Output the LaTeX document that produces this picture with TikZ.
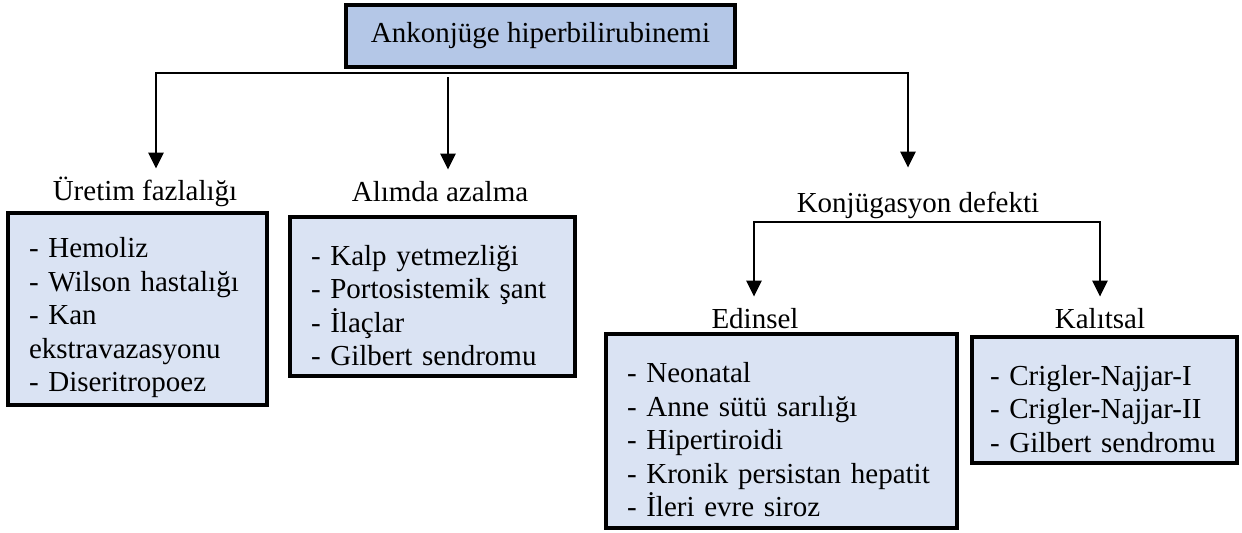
\documentclass[tikz,border=0pt]{standalone}
\usepackage{fontspec}
\setmainfont{Liberation Serif}
\usepackage{tikz}
\usetikzlibrary{arrows.meta, positioning, calc}

\definecolor{headblue}{RGB}{180,199,231}
\definecolor{listblue}{RGB}{218,227,243}

\begin{document}
\begin{tikzpicture}[x=0.5pt, y=-0.5pt,
	font=\fontsize{14.5pt}{16.75pt}\selectfont,
	head/.style={draw, line width=2pt, fill=headblue, minimum width=194.5pt, minimum height=31pt},
	lbl/.style={inner xsep=0pt, inner ysep=3.5pt, text height=12pt, text depth=3pt, anchor=base},
	list/.style={draw, line width=1.8pt, fill=listblue, inner xsep=10.5pt, text height=19pt, align=left},
	arr/.style={line width=1.2pt, -{Triangle[width=7.5pt,length=8pt]}},
	bar/.style={line width=1.2pt, line cap=rect}]
	\useasboundingbox (0,0) rectangle (1242,532);

	\node[head] (root) at (540.5,36) {Ankonjüge hiperbilirubinemi};

	% first level
	\node[lbl] (uretim) at (145,200) {Üretim fazlalığı};
	\node[lbl] (alimda) at (440,201) {Alımda azalma};
	\node[lbl, inner ysep=10pt] (konj) at (918,212) {Konjügasyon defekti};
	\node[list, minimum width=129.5pt, minimum height=96pt, text width=108.5pt] (b1) at (137.5,309)
		{- Hemoliz\\- Wilson hastalığı\\- Kan\\ekstravazasyonu\\- Diseritropoez};
	\node[list, minimum width=142.5pt, minimum height=79.5pt, text width=121.5pt] (b2) at (432.5,296.5)
		{- Kalp yetmezliği\\- Portosistemik şant\\- İlaçlar\\- Gilbert sendromu};

	% second level
	\node[lbl] (edinsel) at (755,328) {Edinsel};
	\node[lbl] (kalitsal) at (1100,328) {Kalıtsal};
	\node[list, minimum width=175.5pt, minimum height=97pt, text width=154.5pt] (b3) at (781.5,431)
		{- Neonatal\\- Anne sütü sarılığı\\- Hipertiroidi\\- Kronik persistan hepatit\\- İleri evre siroz};
	\node[list, inner xsep=9pt, minimum width=132.5pt, minimum height=63pt, text width=114.5pt] (b4) at (1104.5,400)
		{- Crigler-Najjar-I\\- Crigler-Najjar-II\\- Gilbert sendromu};

	\coordinate (hl) at (156,73);
	\coordinate (hm) at (448,77);
	\coordinate (hr) at (908,73);
	\coordinate (kl) at (754,222);
	\coordinate (kr) at (1100,222);

	\draw[bar] (hl) -- (hr);
	\draw[bar] (kl) -- (kr);
	\foreach \from/\to in {hl/uretim,hm/alimda,hr/konj,kl/edinsel,kr/kalitsal}
		\draw[arr] (\from) -- (\from |- \to.north);
\end{tikzpicture}
\end{document}
